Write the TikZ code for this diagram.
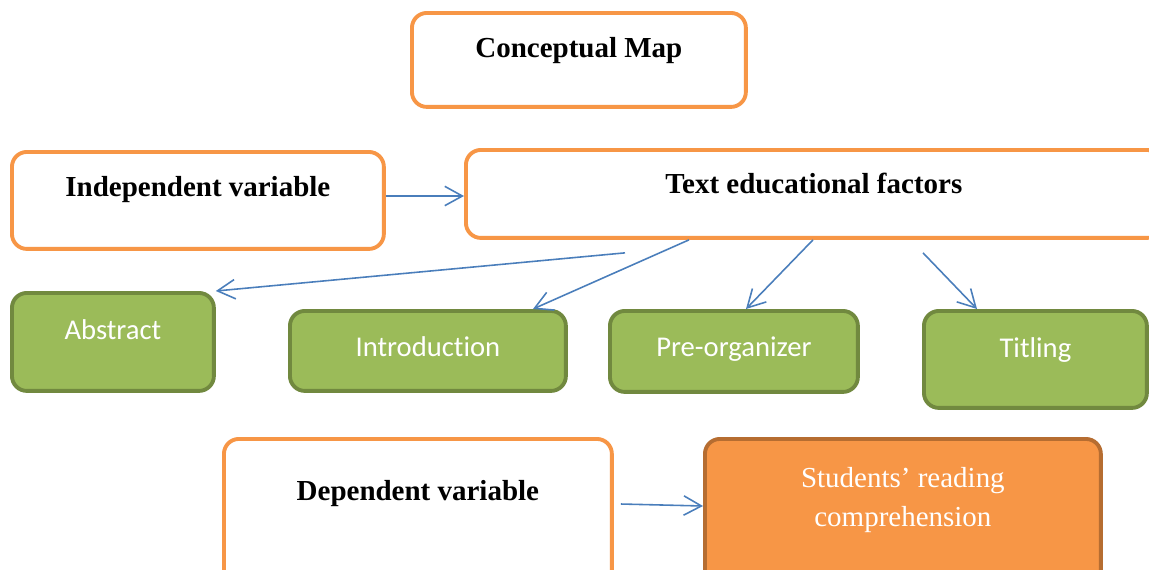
\documentclass[tikz,border=0pt]{standalone}
\usepackage{fontspec}
\setmainfont{Liberation Serif}
\newfontfamily\calibri[Ligatures=NoCommon]{Carlito}
\usetikzlibrary{arrows.meta,calc}
\definecolor{MOrange}{HTML}{F79646}
\definecolor{MOrangeDark}{HTML}{B66D31}
\definecolor{MGreen}{HTML}{9BBB59}
\definecolor{MGreenDark}{HTML}{71893F}
\definecolor{MBlue}{HTML}{4A7EBB}
\tikzset{
    frame/.style = {draw=MOrange, fill=white, line width=2.2pt,
        rounded corners=8.5pt, anchor=north west, inner sep=0pt,
        font=\fontsize{16.5}{22}\selectfont\bfseries},
    leaf/.style = {draw=MGreenDark, fill=MGreen, line width=2.2pt,
        rounded corners=8.5pt, anchor=north west, inner sep=0pt,
        text=white, font=\calibri\fontsize{16.3}{20}\selectfont},
    outcome/.style = {draw=MOrangeDark, fill=MOrange, line width=2.2pt,
        rounded corners=8.5pt, anchor=north west, inner sep=0pt,
        text=white, align=center, font=\fontsize{16.5}{22.2}\selectfont},
    link/.style = {draw=MBlue, line width=0.9pt,
        -{Straight Barb[length=10pt,width=11pt]}}
}
\begin{document}
\begin{tikzpicture}[x=0.02cm,y=-0.02cm]
    \useasboundingbox (2,1) rectangle (1151,570);
    % top row
    \node[frame, minimum width=6.68cm, text height=0.9cm, text depth=0.98cm]
        (map) at (412,12) {Conceptual Map};
    \node[frame, minimum width=7.44cm, text height=0.9cm, text depth=1.04cm]
        (indep) at (12,151) {Independent variable};
    \node[frame, minimum width=13.92cm, text height=0.88cm, text depth=0.88cm]
        (tef) at (466,149) {Text educational factors};
    % factors
    \node[leaf, minimum width=4.04cm, text height=0.94cm, text depth=1.02cm]
        (abs) at (12,292) {Abstract};
    \node[leaf, minimum width=5.52cm, text height=0.92cm, text depth=0.68cm]
        (intro) at (290,310) {Introduction};
    \node[leaf, minimum width=4.96cm, text height=0.92cm, text depth=0.70cm]
        (preorg) at (610,310) {Pre-organizer};
    \node[leaf, minimum width=4.46cm, text height=0.94cm, text depth=1.0cm]
        (titl) at (924,310) {Titling};
    % bottom row
    \node[frame, minimum width=7.76cm, text height=1.24cm, text depth=1.76cm]
        (dep) at (224,438) {Dependent variable};
    \node[outcome, minimum width=7.92cm, text height=1.76cm, text depth=1.24cm]
        (stud) at (705,438) {Students’ reading\\comprehension};
    % arrows
    \draw[link] ($(indep.north east)+(0,46)$) -- ($(tef.north west)+(0,48)$);
    \draw[link] ($(tef.south west)+(161,13)$) -- (abs.north east);
    \draw[link] ($(tef.south west)+(225,0)$) -- ($(intro.north west)+(245,0)$);
    \draw[link] ($(tef.south west)+(349,0)$) -- ($(preorg.north west)+(138,0)$);
    \draw[link] ($(tef.south west)+(459,13)$) -- ($(titl.north west)+(55,0)$);
    \draw[link] ($(dep.north east)+(7,67)$) -- ($(stud.north west)+(0,69)$);
\end{tikzpicture}
\end{document}
